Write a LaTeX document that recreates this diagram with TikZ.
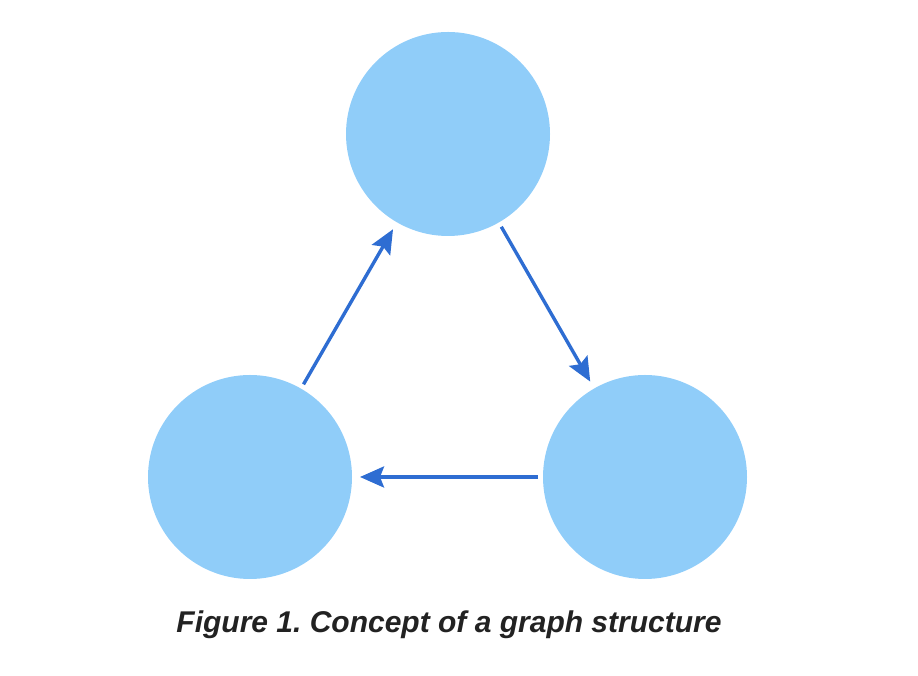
\documentclass[tikz,border=0pt]{standalone}
\usepackage{fontspec}
\setmainfont{Liberation Sans}
\usetikzlibrary{arrows.meta}
\definecolor{nodefill}{HTML}{90CDF9}
\definecolor{edgecol}{HTML}{2E6DD2}
\definecolor{captcol}{HTML}{222222}
\frenchspacing
\begin{document}
\begin{tikzpicture}[x=1pt,y=1pt,
  gnode/.style={circle,fill=nodefill,minimum size=204pt,inner sep=0pt,outer sep=0pt},
  gedge/.style={edgecol,line width=3.4pt,-{Stealth[length=24pt,width=21pt,inset=4pt]},shorten >=8pt,shorten <=5pt}]
\useasboundingbox (0,0) rectangle (918,676);
\node[gnode] (top) at (448,542) {};
\node[gnode] (left) at (250,199) {};
\node[gnode] (right) at (645,199) {};
\draw[gedge] (left) -- (top);
\draw[gedge] (top) -- (right);
\draw[gedge] (right) -- (left);
\node[text=captcol,font=\fontsize{30}{36}\selectfont\bfseries\itshape,inner sep=0pt] (cap) at (449,51) {Figure 1. Concept of a graph structure};
\end{tikzpicture}
\end{document}
